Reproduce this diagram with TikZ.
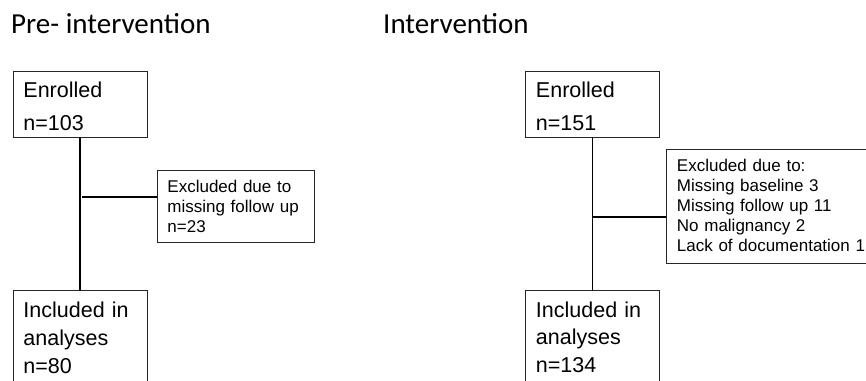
\documentclass[tikz,border=0pt]{standalone}
\usepackage{fontspec}
\setmainfont{Liberation Sans}
\newfontfamily\headfont{Carlito}
\usetikzlibrary{positioning}

\begin{document}
\begin{tikzpicture}[x=1pt, y=-1pt,
  box/.style={draw=black!85, line width=0.9pt, anchor=north west,
    align=left, inner ysep=0pt},
  bigbox/.style={box, text width=113pt, inner xsep=10.5pt,
    font=\fontsize{21.5}{33}\selectfont},
  smallbox/.style={box, inner xsep=10.5pt,
    font=\fontsize{17}{20.3}\selectfont},
  link/.style={line width=1.8pt},
  head/.style={anchor=base west, inner sep=0pt,
    font=\headfont\fontsize{29}{34}\selectfont}]
  \useasboundingbox (0,0) rectangle (866,380);
  \clip (0,0) rectangle (866,380);

  %--- Pre-intervention ---
  \node[head] (titleA) at (11,33) {Pre- intervention};
  \node[bigbox, text height=26pt, text depth=39.5pt] (enrA) at (12.5,71)
    {Enrolled\\n=103};
  \node[bigbox, font=\fontsize{21.5}{27.7}\selectfont,
    text height=27.3pt, text depth=85pt] (incA) at (12.5,290)
    {Included in\\analyses\\n=80};
  \node[smallbox, text width=137pt, inner xsep=10pt,
    text height=21.7pt, text depth=50.6pt] (excA) at (157,170)
    {Excluded due to\\missing follow up\\n=23};
  \draw[link] (enrA) -- (incA);
  \coordinate (brA) at (82,196.7);
  \draw[link] (brA) -- (brA -| excA.west);

  %--- Intervention ---
  \node[head] (titleB) at (383,33) {Intervention};
  \node[bigbox, text height=26pt, text depth=39.5pt] (enrB) at (525,71)
    {Enrolled\\n=151};
  \node[bigbox, font=\fontsize{21.5}{27.7}\selectfont,
    text height=27.3pt, text depth=85pt] (incB) at (525,289.5)
    {Included in\\analyses\\n=134};
  \node[smallbox, text width=200pt, font=\fontsize{17}{20}\selectfont,
    text height=21.7pt, text depth=91.7pt] (excB) at (666,149.3)
    {Excluded due to:\\Missing baseline 3\\Missing follow up 11\\
     No malignancy 2\\Lack of documentation 1};
  \draw[link] (enrB) -- (incB);
  \coordinate (brB) at (enrB.south |- 0,217.3);
  \draw[link] (brB) -- (brB -| excB.west);
\end{tikzpicture}
\end{document}
